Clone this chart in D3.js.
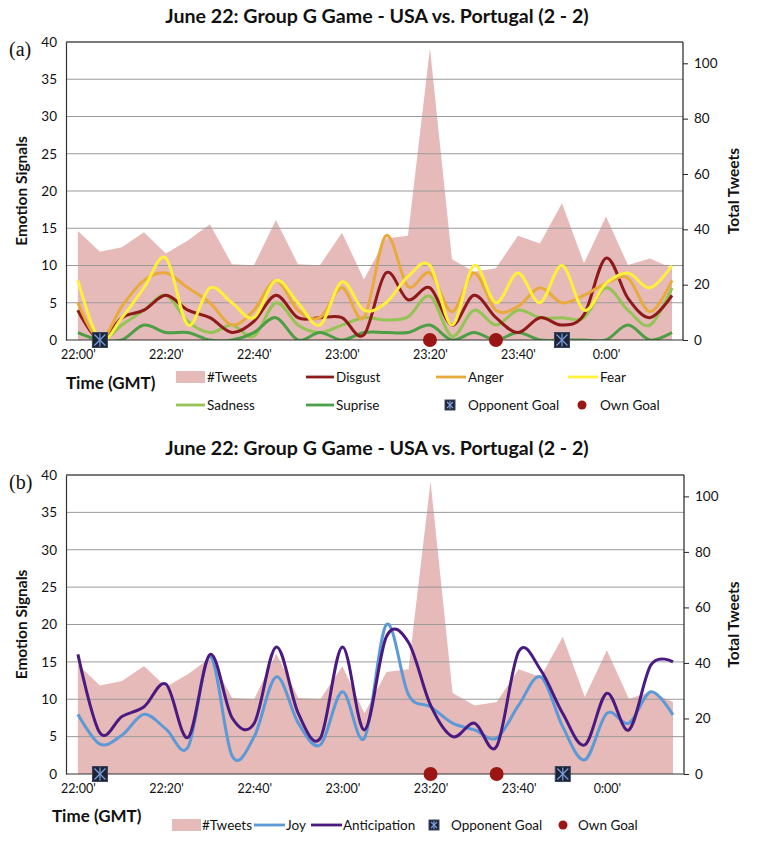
<!DOCTYPE html>
<html><head><meta charset="utf-8">
<script src="https://cdn.jsdelivr.net/npm/d3@7"></script>
<style>body{margin:0;background:#fff;} svg{display:block;}</style>
</head><body>
<svg id="chart" width="763" height="844"></svg>
<script>
// ---- data ----
const minutes = d3.range(28).map(i => i * 5); // 22:00 .. 0:15, 5-minute bins
const tweets = [39.4, 31.9, 33.5, 38.9, 31.3, 36, 41.8, 27.4, 27, 43.4, 27.4, 27, 38.8, 21.9, 36.7, 37.7, 105.4, 29.2, 24.7, 25.9, 37.7, 34.9, 49.4, 27.7, 44.6, 27.1, 29.5, 25.9];
const disgust = [4, 0, 3, 4, 6, 4, 3, 1, 2.5, 6, 3, 3, 3, 0.7, 9, 5.4, 7, 2, 6, 3, 1, 3, 2, 3.4, 11, 5.6, 3, 6];
const anger = [5, 0, 4.5, 8, 9, 7, 5, 2, 4, 8, 4, 3, 7, 3, 14, 7.2, 9, 3.8, 9, 4, 4.5, 7, 5, 6, 7.6, 8.3, 3.8, 8];
const fear = [8, 0, 3, 7, 11, 2, 7, 5, 3, 8, 5, 2, 7.8, 4, 5, 8.5, 10, 2, 10, 5, 9, 5, 10, 4, 7.6, 9, 7, 10];
const sadness = [4, 0, 2, 4, 6, 2.5, 1, 2, 0.5, 5, 2, 1, 2, 3, 2.7, 3.1, 5.9, 0.5, 4, 2, 4, 3, 3, 3, 7, 4, 2, 7];
const surprise = [1, 0, 0, 2, 1, 1, 0, 0, 1, 3, 0, 1, 0, 1, 1, 1, 2, 0, 1, 0, 1, 0, 0, 0, 0, 2, 0, 1];
const joy = [8, 4, 5.2, 8, 6, 3.6, 15.7, 2.4, 5, 13, 6.8, 3.9, 11, 4.8, 20, 10.6, 9, 6.8, 5.9, 4.8, 9.2, 13, 6.3, 1.9, 8.1, 6.8, 11, 7.9];
const anticipation = [16, 5.5, 7.7, 9, 12, 4.9, 16, 7.5, 6.8, 17, 8.1, 4.8, 17, 5.9, 18.4, 17.6, 9.2, 5, 6.8, 3.7, 16.4, 13.9, 8.1, 3.9, 10.8, 5.9, 14.6, 15];
const opponentGoals = [5, 110];   // minutes after 22:00
const ownGoals = [80, 95];
const xTickMinutes = [0, 20, 40, 60, 80, 100, 120];
const xTickLabels = ["22:00'", "22:20'", "22:40'", "23:00'", "23:20'", "23:40'", "0:00'"];
const leftTicks = [0, 5, 10, 15, 20, 25, 30, 35, 40];
const rightTicks = [0, 20, 40, 60, 80, 100];
const title = "June 22: Group G Game - USA vs. Portugal (2 - 2)";

const colors = {
  tweets: "#e6bab9", disgust: "#8e1a1a", anger: "#e8aa3c", fear: "#fff03a",
  sadness: "#93c455", surprise: "#4c9f45", joy: "#5b9ad6", anticipation: "#4a1a80"
};

const svg = d3.select("#chart");
const FONT = "Lato, 'Open Sans', sans-serif";

function panel(cfg) {
  const {top, bottom, left, right, series, label, titleY, legendRows, timeLabelPos, id} = cfg;
  const g = svg.append("g");
  const x = d3.scaleLinear().domain([-2.7, 137.5]).range([left, right]);
  const yL = d3.scaleLinear().domain([0, 40]).range([bottom, top]);
  const yR = d3.scaleLinear().domain([0, 107.7]).range([bottom, top]);

  g.append("text").attr("x", 377).attr("y", titleY).attr("text-anchor", "middle")
    .attr("font-family", FONT).attr("font-weight", "bold").attr("font-size", 19.6)
    .attr("fill", "#111").text(title);
  g.append("text").attr("x", 9).attr("y", top + 14).attr("font-family", "'Liberation Serif', serif")
    .attr("font-size", 20).attr("fill", "#111").text(label);

  const clipId = "clip" + id;
  g.append("clipPath").attr("id", clipId).append("rect")
    .attr("x", left).attr("y", top).attr("width", right - left).attr("height", bottom - top);

  const area = d3.area().x((d, i) => x(minutes[i])).y0(bottom).y1(d => yR(d));
  g.append("path").datum(tweets).attr("d", area).attr("fill", colors.tweets);

  g.append("g").selectAll("line").data(leftTicks.filter(t => t > 0 && t < 40)).join("line")
    .attr("x1", left).attr("x2", right).attr("y1", d => yL(d)).attr("y2", d => yL(d))
    .attr("stroke", "#9a9a9a").attr("stroke-width", 1);
  g.append("line").attr("x1", left).attr("x2", right).attr("y1", top).attr("y2", top)
    .attr("stroke", "#7a7a7a").attr("stroke-width", 2);

  const lg = g.append("g").attr("clip-path", `url(#${clipId})`);
  const line = d3.line().x((d, i) => x(minutes[i])).y(d => yL(d)).curve(d3.curveCardinal.tension(0));
  series.forEach(s => {
    lg.append("path").datum(s.values).attr("d", line).attr("fill", "none")
      .attr("stroke", s.color).attr("stroke-width", 3).attr("stroke-linejoin", "round");
  });

  const axL = d3.axisLeft(yL).tickValues(leftTicks).tickSize(0).tickPadding(9);
  const gL = g.append("g").attr("transform", `translate(${left},0)`).call(axL);
  gL.select(".domain").attr("stroke", "#333").attr("stroke-width", 1.2);
  gL.selectAll("text").attr("font-family", FONT).attr("font-size", 13.5).attr("fill", "#111");

  const axR = d3.axisRight(yR).tickValues(rightTicks).tickSize(5).tickPadding(6);
  const gR = g.append("g").attr("transform", `translate(${right},0)`).call(axR);
  gR.select(".domain").attr("stroke", "#222").attr("stroke-width", 1.2).attr("d", `M0,${top}V${bottom}`);
  gR.selectAll("line").attr("stroke", "#222");
  gR.selectAll("text").attr("font-family", FONT).attr("font-size", 13.5).attr("fill", "#111");

  const axB = d3.axisBottom(x).tickValues(xTickMinutes).tickFormat((d, i) => xTickLabels[i]).tickSize(0).tickPadding(10);
  const gB = g.append("g").attr("transform", `translate(0,${bottom})`).call(axB);
  gB.select(".domain").attr("stroke", "#333").attr("stroke-width", 1.2).attr("d", `M${left},0H${right}`);
  gB.selectAll("text").attr("font-family", FONT).attr("font-size", 12.5).attr("fill", "#111");

  g.append("text").attr("transform", `translate(27,${(top + bottom) / 2}) rotate(-90)`)
    .attr("text-anchor", "middle").attr("font-family", FONT).attr("font-weight", "bold")
    .attr("font-size", 15.5).attr("fill", "#111").text("Emotion Signals");
  g.append("text").attr("transform", `translate(739,${(top + bottom) / 2}) rotate(-90)`)
    .attr("text-anchor", "middle").attr("font-family", FONT).attr("font-weight", "bold")
    .attr("font-size", 15.5).attr("fill", "#111").text("Total Tweets");

  opponentGoals.forEach(m => drawOpp(g, x(m), bottom, 15));
  ownGoals.forEach(m => drawOwn(g, x(m), bottom, 7));

  g.append("text").attr("x", timeLabelPos[0]).attr("y", timeLabelPos[1])
    .attr("font-family", FONT).attr("font-weight", "bold").attr("font-size", 17).attr("fill", "#111").text("Time (GMT)");

  legendRows.forEach(it => {
    const lg2 = g.append("g");
    if (it.type === "area") {
      lg2.append("rect").attr("x", it.x).attr("y", it.y - 6).attr("width", it.w).attr("height", 12).attr("fill", colors.tweets);
    } else if (it.type === "line") {
      lg2.append("line").attr("x1", it.x).attr("x2", it.x + it.w).attr("y1", it.y).attr("y2", it.y)
        .attr("stroke", it.color).attr("stroke-width", 2.8);
    } else if (it.type === "opp") {
      drawOpp(lg2, it.x, it.y, 10);
    } else if (it.type === "own") {
      drawOwn(lg2, it.x, it.y, 4.5);
    }
    lg2.append("text").attr("x", it.tx).attr("y", it.y + 4.5).attr("font-family", FONT)
      .attr("font-size", 13.5).attr("fill", "#111").text(it.text);
  });
}

function drawOpp(g, cx, cy, s) {
  const h = s / 2;
  g.append("rect").attr("x", cx - h).attr("y", cy - h).attr("width", s).attr("height", s)
    .attr("fill", "#1d2535").attr("stroke", "#3a4660").attr("stroke-width", 1);
  const c = "#7c9de0";
  g.append("line").attr("x1", cx - h + 2).attr("y1", cy - h + 2).attr("x2", cx + h - 2).attr("y2", cy + h - 2).attr("stroke", c).attr("stroke-width", 1.2);
  g.append("line").attr("x1", cx - h + 2).attr("y1", cy + h - 2).attr("x2", cx + h - 2).attr("y2", cy - h + 2).attr("stroke", c).attr("stroke-width", 1.2);
  g.append("line").attr("x1", cx).attr("y1", cy - h + 1).attr("x2", cx).attr("y2", cy + h - 1).attr("stroke", c).attr("stroke-width", 1.2);
}
function drawOwn(g, cx, cy, r) {
  g.append("circle").attr("cx", cx).attr("cy", cy).attr("r", r).attr("fill", "#9c1515");
}

panel({
  id: "a", top: 42, bottom: 340, left: 66, right: 683, label: "(a)", titleY: 23,
  timeLabelPos: [66, 389],
  series: [
    {values: sadness, color: colors.sadness},
    {values: surprise, color: colors.surprise},
    {values: disgust, color: colors.disgust},
    {values: anger, color: colors.anger},
    {values: fear, color: colors.fear}
  ],
  legendRows: [
    {type: "area", x: 176, y: 377, w: 29, tx: 207, text: "#Tweets"},
    {type: "line", x: 306, y: 377, w: 28, color: colors.disgust, tx: 336, text: "Disgust"},
    {type: "line", x: 436, y: 377, w: 30, color: colors.anger, tx: 468, text: "Anger"},
    {type: "line", x: 568, y: 377, w: 30, color: colors.fear, tx: 600, text: "Fear"},
    {type: "line", x: 176, y: 405, w: 29, color: colors.sadness, tx: 207, text: "Sadness"},
    {type: "line", x: 306, y: 405, w: 28, color: colors.surprise, tx: 336, text: "Suprise"},
    {type: "opp", x: 450, y: 405, tx: 468, text: "Opponent Goal"},
    {type: "own", x: 582, y: 405, tx: 600, text: "Own Goal"}
  ]
});

panel({
  id: "b", top: 475, bottom: 774, left: 66, right: 684, label: "(b)", titleY: 455,
  timeLabelPos: [52, 822],
  series: [
    {values: joy, color: colors.joy},
    {values: anticipation, color: colors.anticipation}
  ],
  legendRows: [
    {type: "area", x: 172, y: 825, w: 29, tx: 202, text: "#Tweets"},
    {type: "line", x: 254, y: 825, w: 31, color: colors.joy, tx: 286, text: "Joy"},
    {type: "line", x: 311, y: 825, w: 31, color: colors.anticipation, tx: 343, text: "Anticipation"},
    {type: "opp", x: 434, y: 825, tx: 451, text: "Opponent Goal"},
    {type: "own", x: 563, y: 825, tx: 578, text: "Own Goal"}
  ]
});
</script>
</body></html>
